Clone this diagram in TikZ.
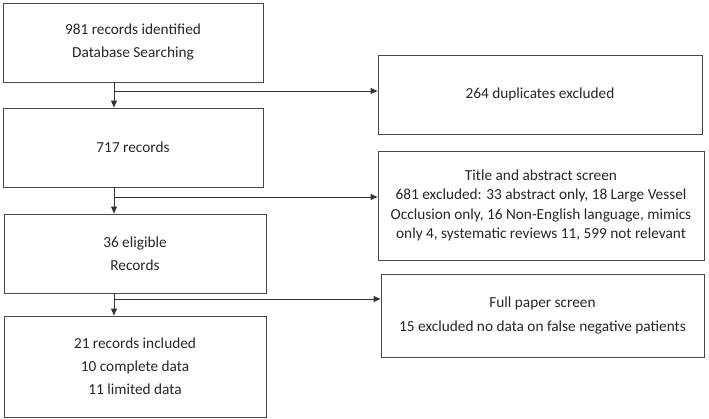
\documentclass[tikz,border=0pt]{standalone}
\usepackage{fontspec}
\setmainfont{Carlito}
\usetikzlibrary{arrows.meta}
\begin{document}
\begin{tikzpicture}[x=1pt,y=1pt,
  box/.style={draw=black!72, line width=0.9pt, inner sep=0pt, align=center,
    font=\fontsize{15.3}{23}\selectfont, text=black!85},
  arr/.style={draw=black!80, line width=0.9pt, -{Triangle[length=7pt,width=6pt]}},
  ln/.style={draw=black!80, line width=0.9pt}]
\useasboundingbox (0,0) rectangle (709,418);
% left column (y measured up: Y = 418 - y)
\node[box, minimum width=260, minimum height=79] (b1) at (133,375.5) {981 records identified\\Database Searching};
\node[box, minimum width=260, minimum height=79] (b2) at (133,270.5) {717 records};
\node[box, minimum width=262, minimum height=79] (b3) at (135,164.5) {36 eligible\\Records};
\node[box, minimum width=262, minimum height=101] (b4) at (135,51.5) {21 records included\\10 complete data\\11 limited data};
% right column
\node[box, minimum width=324, minimum height=79] (d) at (540,323.5) {264 duplicates excluded};
\node[box, minimum width=326, minimum height=109, font=\fontsize{15.3}{19.4}\selectfont] (t) at (541,212.5) {Title and abstract screen\\681 excluded: 33 abstract only, 18 Large Vessel\\Occlusion only, 16 Non-English language, mimics\\only 4, systematic reviews 11, 599 not relevant};
\node[box, minimum width=323, minimum height=83, font=\fontsize{15.3}{24}\selectfont] (f) at (542.5,102.5) {Full paper screen\\15 excluded no data on false negative patients};
% connectors
\coordinate (sx) at (114,0);
\coordinate (j1) at (114,327);
\coordinate (j2) at (114,221);
\coordinate (j3) at (114,119);
\draw[arr] (b1.south -| sx) -- (b2.north -| sx);
\draw[arr] (b2.south -| sx) -- (b3.north -| sx);
\draw[arr] (b3.south -| sx) -- (b4.north -| sx);
\draw[arr] (j1) -- (j1 -| d.west);
\draw[arr] (j2) -- (j2 -| t.west);
\draw[arr] (j3) -- (j3 -| f.west);
\end{tikzpicture}
\end{document}
